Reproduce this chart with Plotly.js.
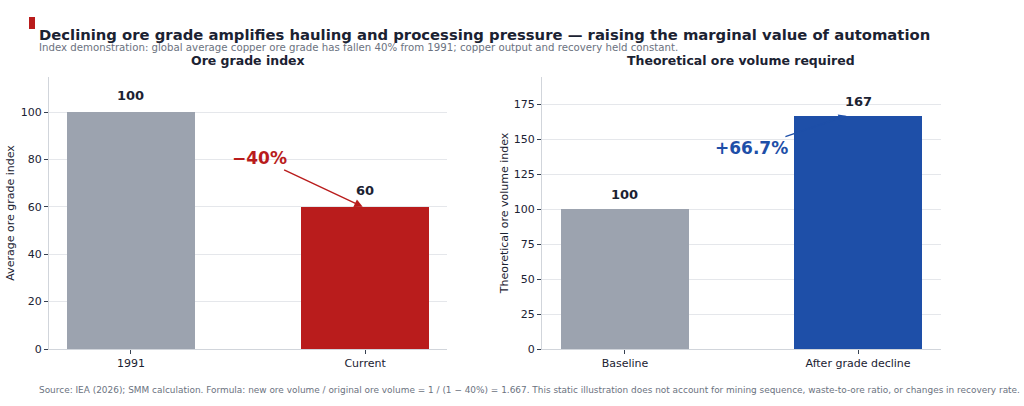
<!DOCTYPE html>
<html>
<head>
<meta charset="utf-8">
<script src="https://cdn.plot.ly/plotly-3.0.1.min.js"></script>
<style>html,body{margin:0;padding:0;background:#fff;}#chart{width:1024px;height:406px;}</style>
</head>
<body>
<div id="chart"></div>
<script>
// Data
const gradeCategories = ["1991", "Current"];
const gradeValues = [100, 60];
const volumeCategories = ["Baseline", "After grade decline"];
const volumeValues = [100, 166.7];
const volumeLabels = ["100", "167"];
const gradeLabels = ["100", "60"];
const gradeTicks = [0, 20, 40, 60, 80, 100];
const volumeTicks = [0, 25, 50, 75, 100, 125, 150, 175];
const gradeChangeText = "\u221240%";
const volumeChangeText = "+66.7%";

const FONT = "DejaVu Sans, Verdana, sans-serif";
const DARK = "#1b2232";
const GRAY = "#9CA3AF";
const RED = "#B91C1C";
const BLUE = "#1E4FA8";

const traces = [
  {type: "bar", x: gradeCategories, y: gradeValues, xaxis: "x", yaxis: "y",
   marker: {color: [GRAY, RED], line: {width: 0}}, width: 0.55, hoverinfo: "none"},
  {type: "bar", x: volumeCategories, y: volumeValues, xaxis: "x2", yaxis: "y2",
   marker: {color: [GRAY, BLUE], line: {width: 0}}, width: 0.55, hoverinfo: "none"}
];

const yDom = [1 - 349/406, 1 - 77/406];
const axCommon = {
  showline: true, linecolor: "#D1D5DB", linewidth: 1,
  ticks: "outside", ticklen: 4, tickcolor: "#374151",
  tickfont: {family: FONT, size: 11, color: DARK},
  zeroline: false, fixedrange: true
};

const annotations = [];
// value labels (category index used as x position)
gradeCategories.forEach((c, i) => annotations.push({
  xref: "x", yref: "y", x: i, y: gradeValues[i], text: "<b>" + gradeLabels[i] + "</b>",
  showarrow: false, yanchor: "bottom", yshift: 7, font: {family: FONT, size: 13, color: DARK}
}));
volumeCategories.forEach((c, i) => annotations.push({
  xref: "x2", yref: "y2", x: i, y: volumeValues[i], text: "<b>" + volumeLabels[i] + "</b>",
  showarrow: false, yanchor: "bottom", yshift: 5, font: {family: FONT, size: 13, color: DARK}
}));
// change arrows
annotations.push({
  xref: "x", yref: "y", x: 0.99, y: gradeValues[1], axref: "x", ayref: "y", ax: 0.55, ay: 80.5,
  text: "<b>" + gradeChangeText + "</b>", showarrow: true, arrowhead: 2, arrowsize: 1.2,
  arrowwidth: 1.4, arrowcolor: RED, font: {family: FONT, size: 17, color: RED}
});
annotations.push({
  xref: "x2", yref: "y2", x: 0.95, y: volumeValues[1], axref: "x2", ayref: "y2", ax: 0.545, ay: 143.5,
  text: "<b>" + volumeChangeText + "</b>", showarrow: true, arrowhead: 2, arrowsize: 1.2,
  arrowwidth: 1.3, arrowcolor: BLUE, font: {family: FONT, size: 17, color: BLUE}
});
// titles
annotations.push({xref: "paper", yref: "paper", x: 37/1024, y: 1 - 34/406, xanchor: "left", yanchor: "middle",
  text: "<b>Declining ore grade amplifies hauling and processing pressure \u2014 raising the marginal value of automation</b>",
  showarrow: false, font: {family: FONT, size: 14.8, color: DARK}});
annotations.push({xref: "paper", yref: "paper", x: 37/1024, y: 1 - 47/406, xanchor: "left", yanchor: "middle",
  text: "Index demonstration: global average copper ore grade has fallen 40% from 1991; copper output and recovery held constant.",
  showarrow: false, font: {family: FONT, size: 10.2, color: "#6B7280"}});
annotations.push({xref: "paper", yref: "paper", x: 248/1024, y: 1 - 60/406, xanchor: "center", yanchor: "middle",
  text: "<b>Ore grade index</b>", showarrow: false, font: {family: FONT, size: 12.5, color: DARK}});
annotations.push({xref: "paper", yref: "paper", x: 741/1024, y: 1 - 60/406, xanchor: "center", yanchor: "middle",
  text: "<b>Theoretical ore volume required</b>", showarrow: false, font: {family: FONT, size: 12.5, color: DARK}});
annotations.push({xref: "paper", yref: "paper", x: 37/1024, y: 1 - 390/406, xanchor: "left", yanchor: "middle",
  text: "Source: IEA (2026); SMM calculation. Formula: new ore volume / original ore volume = 1 / (1 \u2212 40%) = 1.667. This static illustration does not account for mining sequence, waste-to-ore ratio, or changes in recovery rate.",
  showarrow: false, font: {family: FONT, size: 8.93, color: "#6B7280"}});

const layout = {
  width: 1024, height: 406,
  margin: {l: 0, r: 0, t: 0, b: 0},
  paper_bgcolor: "#ffffff", plot_bgcolor: "#ffffff",
  showlegend: false, bargap: 0,
  font: {family: FONT, color: DARK},
  xaxis: Object.assign({}, axCommon, {domain: [49/1024, 447/1024], anchor: "y", range: [-0.35, 1.35], showgrid: false, type: "category"}),
  yaxis: Object.assign({}, axCommon, {domain: yDom, anchor: "x", range: [0, 114.8], tickvals: gradeTicks,
    showgrid: true, gridcolor: "#E5E7EB", gridwidth: 1,
    title: {text: "Average ore grade index", font: {family: FONT, size: 11, color: DARK}, standoff: 3}}),
  xaxis2: Object.assign({}, axCommon, {domain: [542/1024, 941/1024], anchor: "y2", range: [-0.356, 1.356], showgrid: false, type: "category"}),
  yaxis2: Object.assign({}, axCommon, {domain: yDom, anchor: "x2", range: [0, 194.3], tickvals: volumeTicks,
    showgrid: true, gridcolor: "#E5E7EB", gridwidth: 1,
    title: {text: "Theoretical ore volume index", font: {family: FONT, size: 11, color: DARK}, standoff: 2}}),
  shapes: [
    {type: "rect", xref: "paper", yref: "paper", x0: 29/1024, x1: 35/1024, y0: 1 - 29/406, y1: 1 - 17/406,
     fillcolor: RED, line: {width: 0}}
  ],
  annotations: annotations
};

Plotly.newPlot("chart", traces, layout, {displayModeBar: false, staticPlot: true});
</script>
</body>
</html>
